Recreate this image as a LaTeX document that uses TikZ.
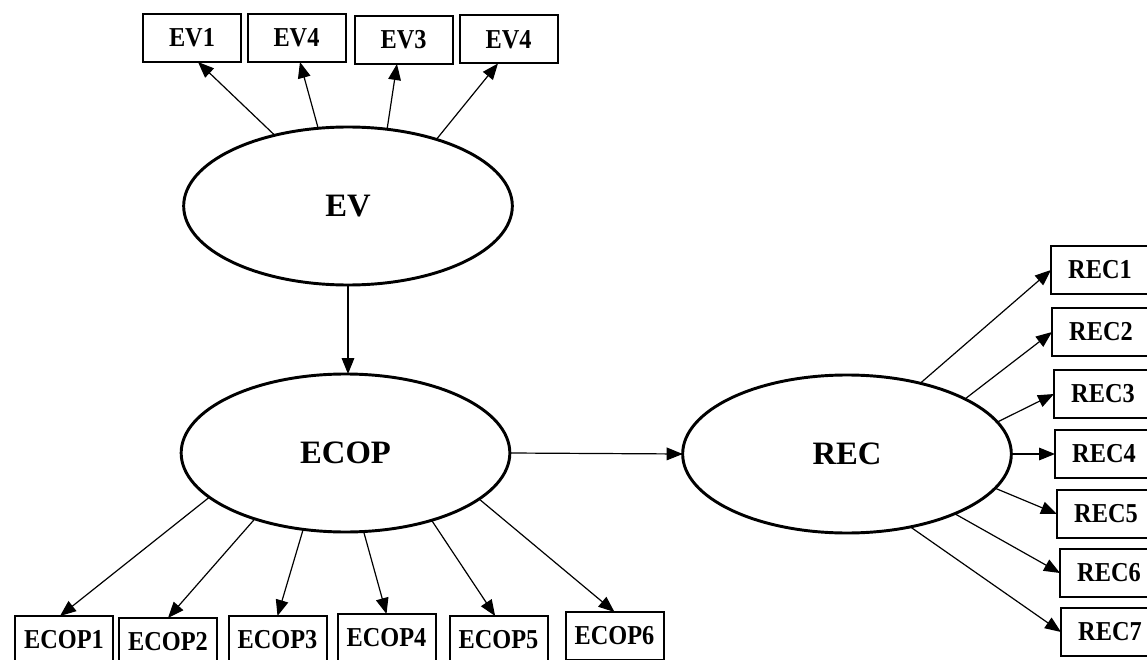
\documentclass[tikz,border=0pt]{standalone}
\usepackage{fontspec}
\setmainfont{Liberation Serif}
\newfontfamily\condserif[FakeStretch=0.89]{Liberation Serif}
\usetikzlibrary{arrows.meta,shapes.geometric}
\begin{document}
\begin{tikzpicture}[x=0.75pt,y=-0.75pt,
  lat/.style={ellipse,draw,line width=2.2pt,minimum width=246.5pt,minimum height=118.5pt,inner sep=0pt,outer sep=0pt,font=\bfseries\fontsize{24.5}{24.5}\selectfont},
  ind/.style={rectangle,draw,line width=1.5pt,minimum width=73.5pt,minimum height=36pt,inner sep=0pt,outer sep=0pt,font=\condserif\bfseries\fontsize{20.5}{20.5}\selectfont},
  arr/.style={-{Triangle[length=12pt,width=9.5pt]},line width=0.9pt}]
\clip (0,0) rectangle (1147,660);
\fill[white] (0,0) rectangle (1147,660);
% latent variables
\node[lat] (ev) at (348,206) {EV};
\node[lat] (ecop) at (345.5,453) {ECOP};
\node[lat] (rec) at (847,454) {REC};
% EV indicators
\node[ind] (ev1) at (192,38) {EV1};
\node[ind] (ev4a) at (296.5,38) {EV4};
\node[ind] (ev3) at (403.5,40) {EV3};
\node[ind] (ev4b) at (508.5,39.5) {EV4};
% ECOP indicators
\node[ind] (ecop1) at (64,640) {ECOP1};
\node[ind] (ecop2) at (168,642) {ECOP2};
\node[ind] (ecop3) at (277.5,640) {ECOP3};
\node[ind] (ecop4) at (386.5,638) {ECOP4};
\node[ind] (ecop5) at (498.5,640) {ECOP5};
\node[ind] (ecop6) at (614.5,636) {ECOP6};
% REC indicators
\node[ind] (rec1) at (1100,270) {REC1};
\node[ind] (rec2) at (1101,332) {REC2};
\node[ind] (rec3) at (1103,394) {REC3};
\node[ind] (rec4) at (1104,454) {REC4};
\node[ind] (rec5) at (1106,514) {REC5};
\node[ind] (rec6) at (1109,573) {REC6};
\node[ind] (rec7) at (1110,632) {REC7};
% EV arrows
\draw[arr] (ev.136.6) -- ([xshift=4.5pt]ev1.south);
\draw[arr] (ev.111.4) -- ([xshift=2.6pt]ev4a.south);
\draw[arr] (ev.63.1) -- ([xshift=-4.9pt]ev3.south);
\draw[arr] (ev.37.1) -- ([xshift=-7.9pt]ev4b.south);
% structural
\draw[arr] (ev.south) -- (ev.south |- ecop.north);
\draw[arr] (ecop.east) -- (rec.west);
% ECOP arrows
\draw[arr] (ecop.198.7) -- ([xshift=-3pt]ecop1.north);
\draw[arr] (ecop.216.5) -- (ecop2.north);
\draw[arr] (ecop.241.1) -- (ecop3.north);
\draw[arr] (ecop.283.9) -- (ecop4.north);
\draw[arr] (ecop.322) -- ([xshift=-2.5pt]ecop5.north);
\draw[arr] (ecop.341) -- (ecop6.north);
% REC arrows
\draw[arr] (rec.44.2) -- (rec1.west);
\draw[arr] (rec.25.8) -- (rec2.west);
\draw[arr] (rec.12.3) -- (rec3.west);
\draw[arr] (rec.0) -- (rec4.west);
\draw[arr] (rec.-13.2) -- (rec5.west);
\draw[arr] (rec.-29.5) -- (rec6.west);
\draw[arr] (rec.-49) -- (rec7.west);
\end{tikzpicture}
\end{document}
